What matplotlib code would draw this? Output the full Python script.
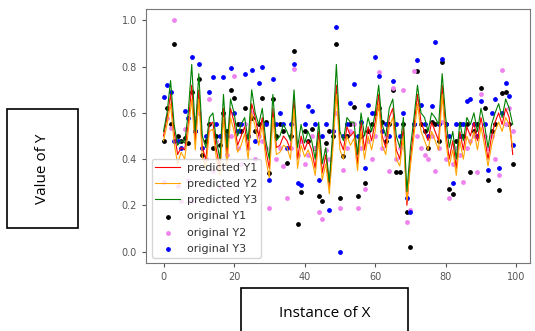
import matplotlib
matplotlib.use("Agg")
import matplotlib.pyplot as plt
from matplotlib.patches import Rectangle
import numpy as np

# values (100 instances)
pred_y1 = [0.50, 0.58, 0.68, 0.52, 0.42, 0.45, 0.44, 0.55, 0.72, 0.48,
           0.70, 0.45, 0.40, 0.55, 0.56, 0.44, 0.36, 0.62, 0.42, 0.62,
           0.56, 0.46, 0.50, 0.54, 0.44, 0.64, 0.58, 0.50, 0.58, 0.44,
           0.36, 0.62, 0.45, 0.46, 0.50, 0.48, 0.44, 0.66, 0.40, 0.50,
           0.44, 0.48, 0.44, 0.36, 0.52, 0.34, 0.42, 0.28, 0.48, 0.72,
           0.48, 0.44, 0.54, 0.50, 0.52, 0.38, 0.56, 0.44, 0.54, 0.48,
           0.56, 0.68, 0.50, 0.45, 0.58, 0.62, 0.44, 0.40, 0.54, 0.20,
           0.40, 0.54, 0.68, 0.56, 0.52, 0.48, 0.56, 0.52, 0.48, 0.72,
           0.52, 0.40, 0.48, 0.36, 0.52, 0.44, 0.54, 0.50, 0.56, 0.48,
           0.58, 0.50, 0.40, 0.50, 0.56, 0.60, 0.55, 0.62, 0.58, 0.42]
pred_y2 = [0.48, 0.55, 0.64, 0.47, 0.38, 0.43, 0.40, 0.52, 0.66, 0.44,
           0.66, 0.41, 0.36, 0.52, 0.53, 0.40, 0.33, 0.58, 0.37, 0.58,
           0.52, 0.43, 0.46, 0.51, 0.40, 0.60, 0.54, 0.46, 0.55, 0.40,
           0.32, 0.58, 0.42, 0.43, 0.46, 0.45, 0.40, 0.62, 0.36, 0.46,
           0.41, 0.44, 0.40, 0.33, 0.48, 0.31, 0.38, 0.25, 0.44, 0.68,
           0.44, 0.40, 0.50, 0.46, 0.49, 0.35, 0.52, 0.40, 0.50, 0.44,
           0.52, 0.64, 0.46, 0.42, 0.54, 0.58, 0.40, 0.37, 0.50, 0.22,
           0.37, 0.50, 0.64, 0.52, 0.48, 0.44, 0.52, 0.48, 0.44, 0.68,
           0.48, 0.37, 0.44, 0.33, 0.48, 0.40, 0.50, 0.46, 0.52, 0.44,
           0.54, 0.46, 0.37, 0.46, 0.52, 0.56, 0.52, 0.58, 0.55, 0.45]
pred_y3 = [0.52, 0.60, 0.74, 0.55, 0.46, 0.48, 0.47, 0.60, 0.81, 0.52,
           0.77, 0.50, 0.45, 0.58, 0.60, 0.48, 0.40, 0.68, 0.45, 0.66,
           0.60, 0.50, 0.55, 0.58, 0.48, 0.70, 0.60, 0.55, 0.62, 0.48,
           0.40, 0.68, 0.48, 0.50, 0.55, 0.52, 0.48, 0.70, 0.45, 0.55,
           0.47, 0.52, 0.48, 0.40, 0.56, 0.38, 0.45, 0.30, 0.52, 0.81,
           0.52, 0.48, 0.58, 0.56, 0.56, 0.42, 0.60, 0.50, 0.58, 0.52,
           0.60, 0.72, 0.55, 0.50, 0.62, 0.66, 0.50, 0.45, 0.58, 0.26,
           0.45, 0.58, 0.72, 0.60, 0.58, 0.52, 0.60, 0.58, 0.55, 0.77,
           0.58, 0.45, 0.52, 0.40, 0.56, 0.48, 0.58, 0.55, 0.60, 0.52,
           0.62, 0.55, 0.45, 0.55, 0.60, 0.64, 0.58, 0.66, 0.62, 0.55]

orig_y1 = [0.48, 0.62, 0.55, 0.90, 0.50, 0.48, 0.49, 0.47, 0.69, 0.52,
           0.745, 0.42, 0.48, 0.55, 0.45, 0.50, 0.46, 0.60, 0.52, 0.70,
           0.665, 0.55, 0.52, 0.62, 0.50, 0.58, 0.52, 0.55, 0.665, 0.56,
           0.34, 0.66, 0.50, 0.55, 0.52, 0.385, 0.50, 0.87, 0.12, 0.26,
           0.52, 0.48, 0.53, 0.45, 0.24, 0.22, 0.47, 0.52, 0.50, 0.90,
           0.23, 0.415, 0.50, 0.55, 0.625, 0.24, 0.50, 0.295, 0.52, 0.55,
           0.60, 0.62, 0.56, 0.48, 0.55, 0.70, 0.345, 0.345, 0.55, 0.17,
           0.02, 0.55, 0.78, 0.55, 0.52, 0.45, 0.56, 0.55, 0.48, 0.82,
           0.55, 0.27, 0.25, 0.48, 0.55, 0.50, 0.55, 0.345, 0.52, 0.55,
           0.71, 0.62, 0.31, 0.52, 0.55, 0.265, 0.685, 0.69, 0.55, 0.38]
orig_y2 = [0.30, 0.58, 0.535, 1.00, 0.285, 0.22, 0.53, 0.31, 0.22, 0.58,
           0.60, 0.45, 0.40, 0.66, 0.35, 0.48, 0.28, 0.55, 0.42, 0.50,
           0.76, 0.45, 0.38, 0.55, 0.45, 0.60, 0.40, 0.50, 0.48, 0.45,
           0.19, 0.55, 0.40, 0.45, 0.37, 0.23, 0.45, 0.79, 0.42, 0.48,
           0.38, 0.42, 0.50, 0.45, 0.17, 0.14, 0.44, 0.40, 0.52, 0.60,
           0.19, 0.355, 0.45, 0.52, 0.55, 0.19, 0.45, 0.27, 0.48, 0.40,
           0.50, 0.775, 0.45, 0.50, 0.35, 0.71, 0.40, 0.45, 0.70, 0.13,
           0.18, 0.78, 0.50, 0.45, 0.42, 0.40, 0.50, 0.35, 0.45, 0.56,
           0.40, 0.23, 0.38, 0.45, 0.42, 0.30, 0.45, 0.48, 0.50, 0.345,
           0.68, 0.50, 0.45, 0.50, 0.40, 0.33, 0.785, 0.55, 0.62, 0.52]
orig_y3 = [0.67, 0.72, 0.69, 0.48, 0.48, 0.45, 0.61, 0.58, 0.84, 0.52,
           0.81, 0.45, 0.50, 0.69, 0.755, 0.55, 0.50, 0.757, 0.50, 0.795,
           0.60, 0.52, 0.55, 0.77, 0.50, 0.785, 0.48, 0.73, 0.80, 0.55,
           0.31, 0.745, 0.55, 0.60, 0.55, 0.45, 0.55, 0.81, 0.295, 0.29,
           0.55, 0.63, 0.61, 0.55, 0.31, 0.50, 0.55, 0.18, 0.52, 0.97,
           0.00, 0.50, 0.55, 0.645, 0.725, 0.50, 0.56, 0.36, 0.635, 0.60,
           0.84, 0.76, 0.52, 0.55, 0.50, 0.74, 0.55, 0.50, 0.60, 0.23,
           0.17, 0.55, 0.83, 0.635, 0.55, 0.50, 0.63, 0.905, 0.55, 0.835,
           0.55, 0.50, 0.295, 0.55, 0.50, 0.55, 0.65, 0.66, 0.55, 0.50,
           0.65, 0.55, 0.355, 0.60, 0.66, 0.36, 0.60, 0.73, 0.675, 0.46]

x = np.arange(len(pred_y1))

fig = plt.figure(figsize=(5.35, 3.31), dpi=100)
ax = fig.add_axes([0.273, 0.205, 0.718, 0.768])

ax.plot(x, pred_y1, color='red', lw=0.8, label='predicted Y1')
ax.plot(x, pred_y2, color='orange', lw=0.8, label='predicted Y2')
ax.plot(x, pred_y3, color='green', lw=0.8, label='predicted Y3')
ax.scatter(x, orig_y1, s=6, color='black', label='original Y1')
ax.scatter(x, orig_y2, s=6, color='violet', label='original Y2')
ax.scatter(x, orig_y3, s=6, color='blue', label='original Y3')

ax.set_xticks([0, 20, 40, 60, 80, 100])
ax.set_yticks([0.0, 0.2, 0.4, 0.6, 0.8, 1.0])
ax.tick_params(labelsize=7, colors='#555555', length=3)
for s in ax.spines.values():
    s.set_color('#777777')
ax.legend(loc='lower left', fontsize=8, handlelength=2.2, labelspacing=0.55,
          borderpad=0.35, handletextpad=0.6, labelcolor='#333333')

# label boxes drawn outside the axes
fig.patches.append(Rectangle((0.0131, 0.311), 0.1327, 0.3595, transform=fig.transFigure,
                             fill=False, edgecolor='black', lw=1.2))
fig.text(0.0794, 0.491, 'Value of Y', rotation=90, ha='center', va='center',
         fontsize=11, family='Open Sans')
fig.patches.append(Rectangle((0.4505, -0.05), 0.312, 0.18, transform=fig.transFigure,
                             fill=False, edgecolor='black', lw=1.2))
fig.text(0.6065, 0.054, 'Instance of X', ha='center', va='center',
         fontsize=11, family='Open Sans')

fig.savefig('out.png', dpi=100)
